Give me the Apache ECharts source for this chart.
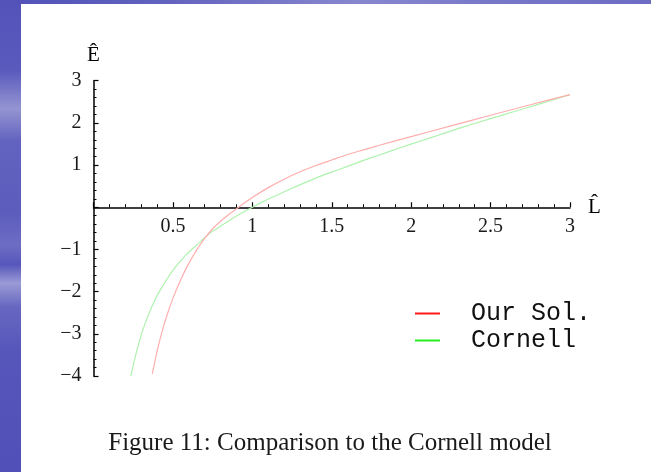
<!DOCTYPE html>
<html>
<head>
<meta charset="utf-8">
<script src="https://cdn.jsdelivr.net/npm/echarts@6/dist/echarts.min.js"></script>
<style>
  html, body { margin: 0; padding: 0; }
  body {
    width: 651px; height: 472px; overflow: hidden; position: relative;
    background: linear-gradient(90deg, #5151b8 0%, #6262bf 25%, #8787cf 55%, #7878c9 75%, #6c6cc4 100%);
  }
  #strip {
    position: absolute; left: 0; top: 0; width: 21px; height: 472px;
    background: linear-gradient(180deg, #5252b9 0%, #5a5abd 15%, #9494d2 23%, #6262c0 30%, #5c5cbd 45%, #6d6dc4 52%, #5656bb 56%, #9a9ad6 60%, #6767c1 65%, #5555ba 75%, #5050b8 100%);
  }
  #panel {
    position: absolute; left: 21px; top: 4px; width: 630px; height: 468px; background: #ffffff;
  }
  #chart { position: absolute; left: 0; top: 0; width: 651px; height: 472px; }
</style>
</head>
<body>
<div id="strip"></div>
<div id="panel"></div>
<div id="chart"></div>
<script>
// ---- data ----
var seriesNames = ['Our Sol.', 'Cornell'];

var ourSolL = [0.370, 0.40, 0.43, 0.46, 0.50, 0.55, 0.60, 0.65, 0.70, 0.75, 0.80, 0.86, 0.92, 1.00, 1.10, 1.20, 1.30, 1.40, 1.50, 1.60, 1.70, 1.80, 2.00, 2.25, 2.50, 2.75, 3.00];
var ourSolE = [-3.95, -3.42, -2.97, -2.59, -2.16, -1.71, -1.33, -1.01, -0.74, -0.51, -0.33, -0.15, 0.02, 0.23, 0.465, 0.665, 0.84, 0.99, 1.12, 1.25, 1.36, 1.47, 1.675, 1.93, 2.18, 2.43, 2.67];

var cornellL = [0.235, 0.26, 0.29, 0.314, 0.35, 0.38, 0.419, 0.47, 0.524, 0.58, 0.63, 0.68, 0.734, 0.80, 0.86, 0.93, 1.00, 1.07, 1.15, 1.28, 1.40, 1.49, 1.60, 1.70, 1.80, 1.93, 2.05, 2.18, 2.30, 2.50, 2.65, 2.81, 3.00];
var cornellE = [-4.00, -3.59, -3.16, -2.87, -2.51, -2.25, -1.97, -1.66, -1.38, -1.14, -0.96, -0.79, -0.61, -0.45, -0.30, -0.14, 0.00, 0.14, 0.28, 0.50, 0.69, 0.82, 0.97, 1.11, 1.24, 1.41, 1.56, 1.72, 1.87, 2.10, 2.27, 2.45, 2.67];

var xTickValues = [0, 0.5, 1, 1.5, 2, 2.5, 3];
var xTickLabels = ['', '0.5', '1', '1.5', '2', '2.5', '3'];
var yTickValues = [-4, -3, -2, -1, 0, 1, 2, 3];
var yTickLabels = ['\u22124', '\u22123', '\u22122', '\u22121', '', '1', '2', '3'];

var xName = 'L\u0302';
var yName = '\u00CA';
var caption = 'Figure 11: Comparison to the Cornell model';

function zip(a, b) { var out = []; for (var i = 0; i < a.length; i++) out.push([a[i], b[i]]); return out; }
function lookup(vals, labels, v) {
  for (var i = 0; i < vals.length; i++) if (Math.abs(vals[i] - v) < 1e-9) return labels[i];
  return '';
}

var chart = echarts.init(document.getElementById('chart'), null, { renderer: 'canvas' });
var serifFont = '"Liberation Serif", "Times New Roman", serif';
var axisCommon = {
  axisLine: { show: true, onZero: false, lineStyle: { color: '#000', width: 1.5 } },
  axisTick: { show: true, inside: true, length: 5, lineStyle: { color: '#000', width: 1.2 } },
  minorTick: { show: true, splitNumber: 5, length: 3, lineStyle: { color: '#000', width: 1 } },
  splitLine: { show: false },
  minorSplitLine: { show: false }
};

chart.setOption({
  backgroundColor: 'transparent',
  animation: false,
  title: {
    text: caption,
    left: 325, top: 426, textAlign: 'center',
    textStyle: { fontFamily: serifFont, fontSize: 25, fontWeight: 'normal', color: '#1a1a1a' }
  },
  grid: { left: 93.5, right: 81, top: 80.7, bottom: 96, containLabel: false },
  legend: {
    orient: 'vertical', left: 415, top: 301, padding: 0,
    icon: 'rect', itemWidth: 25, itemHeight: 2, itemGap: 2,
    textStyle: { fontFamily: '"Liberation Mono", "Courier New", monospace', fontSize: 25, color: '#111', lineHeight: 25, padding: [0, 0, 0, 26] },
    data: [
      { name: seriesNames[0], itemStyle: { color: '#ff1a1a' } },
      { name: seriesNames[1], itemStyle: { color: '#22ee22' } }
    ]
  },
  xAxis: Object.assign({}, axisCommon, {
    type: 'value', min: 0, max: 3, interval: 0.5, position: 'bottom', offset: 0,
    name: xName, nameLocation: 'end', nameGap: 18,
    nameTextStyle: { fontFamily: serifFont, fontSize: 21, color: '#000', verticalAlign: 'middle' },
    axisLabel: {
      margin: 9, fontFamily: serifFont, fontSize: 20, color: '#1a1a1a',
      formatter: function (v) { return lookup(xTickValues, xTickLabels, v); }
    }
  }),
  yAxis: Object.assign({}, axisCommon, {
    type: 'value', min: -4, max: 3, interval: 1,
    name: yName, nameLocation: 'end', nameGap: 15,
    nameTextStyle: { fontFamily: serifFont, fontSize: 21, color: '#000', align: 'center' },
    axisLabel: {
      margin: 12, fontFamily: serifFont, fontSize: 20, color: '#1a1a1a',
      formatter: function (v) { return lookup(yTickValues, yTickLabels, v); }
    }
  }),
  series: [
    {
      name: seriesNames[0], type: 'line', data: zip(ourSolL, ourSolE),
      showSymbol: false, smooth: 0.2, z: 3,
      itemStyle: { color: '#ff1a1a' },
      lineStyle: { color: '#ffaeae', width: 1.2 }
    },
    {
      name: seriesNames[1], type: 'line', data: zip(cornellL, cornellE),
      showSymbol: false, smooth: 0.2, z: 2,
      itemStyle: { color: '#22ee22' },
      lineStyle: { color: '#aef2ae', width: 1.2 }
    }
  ]
});

// Put the horizontal axis (line, ticks and labels) through E = 0, as in the reference.
var zeroY = chart.convertToPixel({ yAxisIndex: 0 }, 0);
var bottomY = chart.convertToPixel({ yAxisIndex: 0 }, yTickValues[0]);
chart.setOption({ xAxis: { offset: zeroY - bottomY } });
</script>
</body>
</html>
